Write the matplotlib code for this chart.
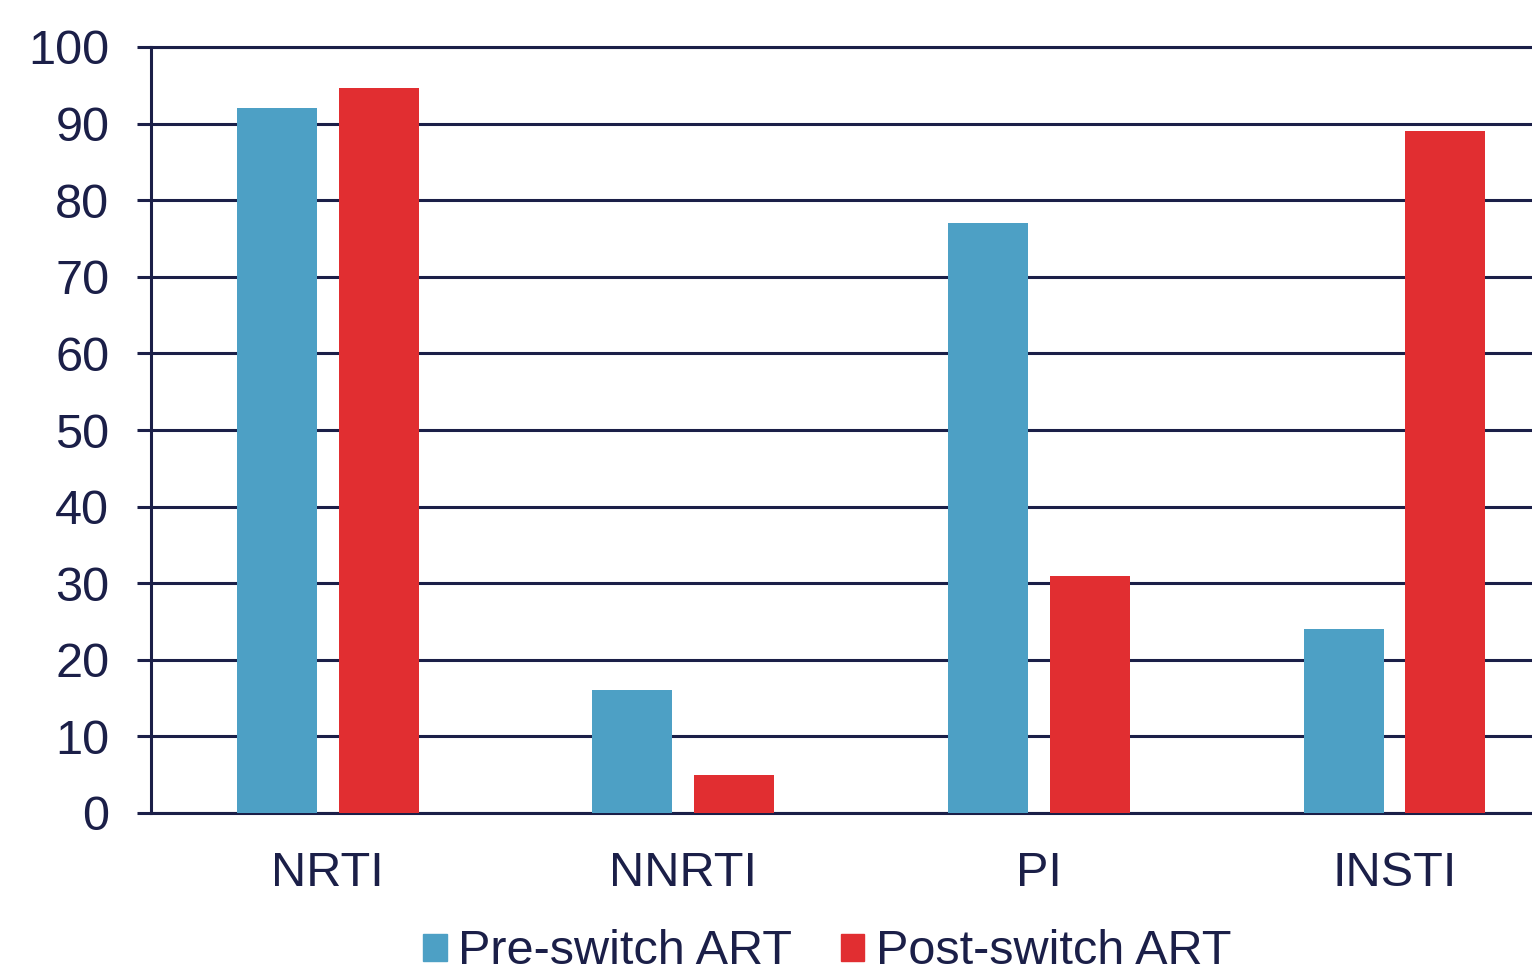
import matplotlib
matplotlib.use("Agg")
import matplotlib.pyplot as plt
import numpy as np
from matplotlib.patches import Patch

plt.rcParams['font.family'] = ['Liberation Sans', 'DejaVu Sans']

categories = ["NRTI", "NNRTI", "PI", "INSTI"]
pre_switch = [92, 16, 77, 24]
post_switch = [94.7, 5, 31, 89]
series_names = ["Pre-switch ART", "Post-switch ART"]
y_ticks = list(range(0, 101, 10))

NAVY = "#1b1f48"
BLUE = "#4da0c5"
RED = "#e12e31"

W, H = 1532, 973
fig = plt.figure(figsize=(W / 100, H / 100), dpi=100)
ax = fig.add_axes([151 / W, (H - 813) / H, (W - 151) / W, (813 - 47) / H])

x = np.arange(len(categories))
bw = 0.225
off = 0.143
ax.bar(x - off, pre_switch, bw, color=BLUE, zorder=3)
ax.bar(x + off, post_switch, bw, color=RED, zorder=3)

ax.set_xlim(-0.497, 3.387)
ax.set_ylim(0, 100)
ax.set_yticks(y_ticks)
ax.set_xticks(x)
ax.set_xticklabels(categories)

ax.yaxis.grid(True, color=NAVY, linewidth=2.2, zorder=1)
ax.set_axisbelow(True)
ax.spines["right"].set_visible(False)
for s in ["left", "bottom", "top"]:
    ax.spines[s].set_color(NAVY)
    ax.spines[s].set_linewidth(2.2)
ax.spines["top"].set_zorder(1)

ax.tick_params(axis="y", length=10, width=2.2, color=NAVY, labelcolor=NAVY,
               labelsize=35, pad=20)
ax.tick_params(axis="x", length=0, labelcolor=NAVY, labelsize=35, pad=27)

handles = [Patch(color=BLUE), Patch(color=RED)]
fig.legend(handles, series_names, loc="center", bbox_to_anchor=(827 / W, 1 - 952 / H),
           ncol=2, frameon=False, fontsize=35, labelcolor=NAVY,
           handlelength=0.49, handleheight=0.49, handletextpad=0.23,
           columnspacing=1.0, borderpad=0)

fig.savefig("out.png", dpi=100)
